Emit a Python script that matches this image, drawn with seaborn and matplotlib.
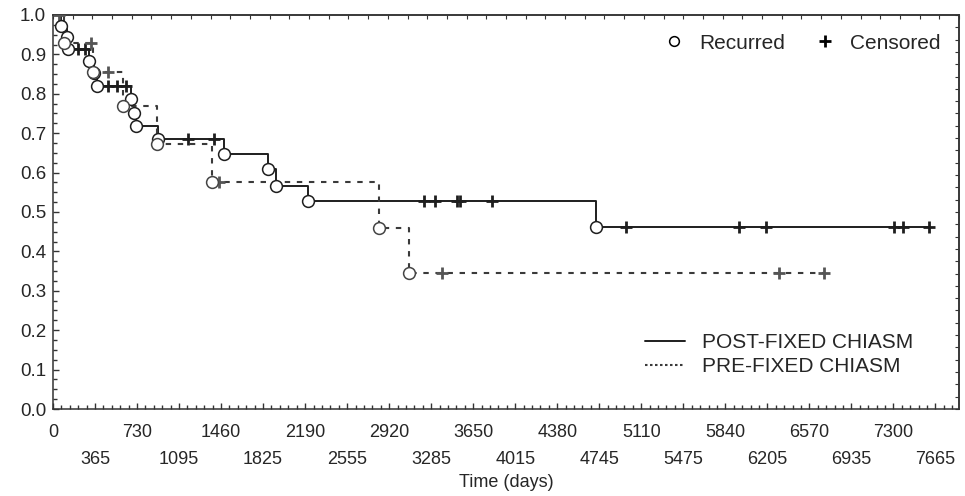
import numpy as np
import pandas as pd
import seaborn as sns
import matplotlib.pyplot as plt
from matplotlib.lines import Line2D
from matplotlib.ticker import MultipleLocator, FixedLocator

# ---- data (days, survival proportion) ----
post_t = [0, 67, 125, 133, 310, 355, 385, 675, 706, 718, 910, 1488, 1871, 1937, 2218, 4718, 7605]
post_s = [1.0, 0.972, 0.943, 0.913, 0.883, 0.852, 0.820, 0.787, 0.752, 0.718, 0.684,
          0.646, 0.608, 0.567, 0.528, 0.461, 0.461]
post_cens = [220, 280, 480, 560, 635, 1170, 1401, 3226, 3319, 3513, 3536, 3811,
             4978, 5963, 6195, 7301, 7382, 7605]

pre_t = [0, 95, 350, 610, 906, 1379, 2832, 3093, 6698]
pre_s = [1.0, 0.929, 0.855, 0.768, 0.672, 0.575, 0.460, 0.344, 0.344]
pre_cens = [52, 328, 480, 1445, 3382, 6302, 6698]

x_ticks = list(range(0, 7666, 365))
y_ticks = [0.0, 0.1, 0.2, 0.3, 0.4, 0.5, 0.6, 0.7, 0.8, 0.9, 1.0]
X_MAX = 7870

sns.set_style('ticks')
plt.rcParams['font.family'] = ['Liberation Sans', 'DejaVu Sans']

post = pd.DataFrame({'t': post_t, 's': post_s})
pre = pd.DataFrame({'t': pre_t, 's': pre_s})


def surv_at(times, t_steps, s_steps):
    idx = np.searchsorted(t_steps, times, side='right') - 1
    return np.asarray(s_steps)[idx]


fig, ax = plt.subplots(figsize=(9.65, 4.96), dpi=100)
fig.subplots_adjust(left=0.0549, right=0.9938, bottom=0.1754, top=0.9698)

POST_C = '#1e1e1e'
PRE_C = '#3a3a3a'
DASH = (0, (2.6, 3.2))

sns.lineplot(data=post, x='t', y='s', ax=ax, sort=False, estimator=None,
             drawstyle='steps-post', color=POST_C, linewidth=1.4)
sns.lineplot(data=pre, x='t', y='s', ax=ax, sort=False, estimator=None,
             drawstyle='steps-post', color=PRE_C, linewidth=1.5, linestyle=DASH)

# censored marks
ax.plot(post_cens, surv_at(post_cens, post_t, post_s), ls='none', marker='+',
        ms=9, mew=2, color=POST_C, zorder=4)
ax.plot(pre_cens, surv_at(pre_cens, pre_t, pre_s), ls='none', marker='+',
        ms=9, mew=2, color='#555555', zorder=4)

# recurrences
ax.plot(post_t[1:-1], post_s[1:-1], ls='none', marker='o', ms=8.5, mfc='white',
        mec=POST_C, mew=1.1, zorder=5)
ax.plot(pre_t[1:-1], pre_s[1:-1], ls='none', marker='o', ms=8.5, mfc='white',
        mec='#444444', mew=1.1, zorder=5)

ax.set_xlim(0, X_MAX)
ax.set_ylim(0, 1.0)

ax.set_xticks(x_ticks)
ax.set_xticklabels([str(v) if i % 2 == 0 else '\n' + str(v) for i, v in enumerate(x_ticks)],
                   fontsize=13, linespacing=1.75)
ax.xaxis.set_minor_locator(MultipleLocator(73))
ax.set_yticks(y_ticks)
ax.set_yticklabels([f'{v:.1f}' for v in y_ticks], fontsize=13.5)
ax.yaxis.set_minor_locator(MultipleLocator(0.025))
ax.tick_params(which='both', direction='in', color='#333333', width=1)
ax.tick_params(which='major', length=4)
ax.tick_params(axis='x', which='major', pad=11)
ax.tick_params(axis='y', which='major', pad=5)
ax.tick_params(which='minor', length=3)
ax.set_xlabel('Time (days)', fontsize=13, labelpad=4)
ax.set_ylabel('')

# top and right tick rows (independent spacing)
top = ax.secondary_xaxis('top')
top.xaxis.set_major_locator(FixedLocator(np.linspace(0, X_MAX, 47)))
top.tick_params(direction='in', length=3, labeltop=False, color='#333333')
right = ax.secondary_yaxis('right')
right.yaxis.set_major_locator(FixedLocator(np.linspace(0, 1, 33)))
right.tick_params(direction='in', length=3, labelright=False, color='#333333')

for sp in list(ax.spines.values()) + [top.spines['top'], right.spines['right']]:
    sp.set_color('#333333')
    sp.set_linewidth(1.1)

# legends
mark_handles = [
    Line2D([], [], ls='none', marker='o', ms=7, mfc='white', mec='black', mew=1.1),
    Line2D([], [], ls='none', marker='+', ms=9, mew=2, color='black'),
]
leg1 = ax.legend(mark_handles, ['Recurred', 'Censored'], loc='upper right',
                 bbox_to_anchor=(1.0, 1.0), ncol=2, frameon=False, fontsize=15,
                 handletextpad=0.6, columnspacing=1.3, handlelength=1.2)
ax.add_artist(leg1)

line_handles = [
    Line2D([], [], color=POST_C, lw=1.4),
    Line2D([], [], color=PRE_C, lw=1.5, ls=(0, (1.2, 1.2))),
]
ax.legend(line_handles, ['POST-FIXED CHIASM', 'PRE-FIXED CHIASM'], loc='lower left',
          bbox_to_anchor=(0.633, 0.035), frameon=False, fontsize=15,
          handlelength=1.9, handletextpad=0.8, labelspacing=0.25)

plt.savefig('out.png', dpi=100)
